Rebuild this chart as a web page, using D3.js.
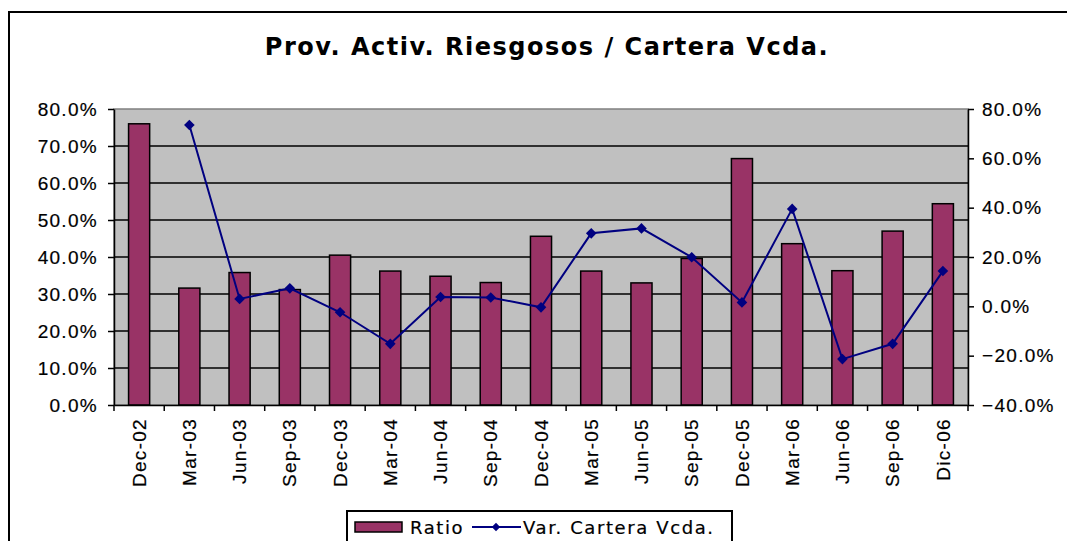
<!DOCTYPE html>
<html>
<head>
<meta charset='utf-8'>
<script src='https://d3js.org/d3.v7.min.js'></script>
<style>
    body { margin: 0; background: #fff; }
    svg { display: block; font-family: "DejaVu Sans", Verdana, sans-serif; }
    .axis text { font-size: 19px; fill: #000; letter-spacing: 1.3px; stroke: #000; stroke-width: 0.2px; }
    .axis path, .axis line { stroke: #000; stroke-width: 1.5; }
    .legend text { font-size: 18px; letter-spacing: 1.6px; stroke: #000; stroke-width: 0.2px; }
</style>
</head>
<body>
<div id='chart'></div>
<script>
    // quarters
    var categories = ['Dec-02', 'Mar-03', 'Jun-03', 'Sep-03', 'Dec-03', 'Mar-04', 'Jun-04', 'Sep-04',
        'Dec-04', 'Mar-05', 'Jun-05', 'Sep-05', 'Dec-05', 'Mar-06', 'Jun-06', 'Sep-06', 'Dic-06'];
    // Ratio (%), left axis
    var ratio = [76.0, 31.6, 35.8, 31.2, 40.5, 36.2, 34.8, 33.1, 45.6, 36.2, 33.0, 39.6, 66.6, 43.6, 36.3, 47.0, 54.4];
    // Var. Cartera Vcda. (%), right axis
    var variation = [null, 73.5, 3.0, 7.3, -2.4, -15.2, 3.8, 3.6, -0.4, 29.6, 31.6, 19.9, 1.6, 39.5, -21.4, -15.2, 14.3];
    var leftTicks = [0, 10, 20, 30, 40, 50, 60, 70, 80];
    var rightTicks = [-40, -20, 0, 20, 40, 60, 80];

    const W = 1067, H = 541;
    const plot = { left: 114, right: 968, top: 109, bottom: 405 };

    var svg = d3.select('#chart').append('svg')
        .attr('width', W)
        .attr('height', H);

    // chart border (runs off the bottom/right of the picture)
    svg.append('rect')
        .attr('x', 9).attr('y', 12)
        .attr('width', W + 20).attr('height', H + 20)
        .attr('fill', '#fff').attr('stroke', '#000').attr('stroke-width', 2);

    svg.append('text')
        .attr('x', 547).attr('y', 55)
        .attr('text-anchor', 'middle')
        .attr('font-size', 24).attr('font-weight', 'bold')
        .attr('letter-spacing', 1.5)
        .text('Prov. Activ. Riesgosos / Cartera Vcda.');

    var x = d3.scaleBand().domain(categories).range([plot.left, plot.right]).padding(0);
    var yL = d3.scaleLinear().domain([0, 80]).range([plot.bottom, plot.top]);
    var yR = d3.scaleLinear().domain([-40, 80]).range([plot.bottom, plot.top]);
    var pct = function(d) { return d3.format('.1f')(d) + '%'; };

    // plot area
    svg.append('rect')
        .attr('x', plot.left).attr('y', plot.top)
        .attr('width', plot.right - plot.left).attr('height', plot.bottom - plot.top)
        .attr('fill', '#c0c0c0').attr('stroke', '#808080').attr('stroke-width', 1.5);

    // gridlines
    svg.append('g').selectAll('line')
        .data(leftTicks.filter(function(d) { return d > 0 && d < 80; }))
        .enter().append('line')
        .attr('x1', plot.left).attr('x2', plot.right)
        .attr('y1', function(d) { return yL(d); }).attr('y2', function(d) { return yL(d); })
        .attr('stroke', '#000').attr('stroke-width', 1.5);

    // bars
    var bw = x.bandwidth() * 0.42;
    svg.append('g').selectAll('rect')
        .data(ratio)
        .enter().append('rect')
        .attr('x', function(d, i) { return x(categories[i]) + (x.bandwidth() - bw) / 2; })
        .attr('y', function(d) { return yL(d); })
        .attr('width', bw)
        .attr('height', function(d) { return yL(0) - yL(d); })
        .attr('fill', '#993366').attr('stroke', '#000').attr('stroke-width', 1.5);

    // axes
    svg.append('g').attr('class', 'axis')
        .attr('transform', 'translate(' + plot.left + ',0)')
        .call(d3.axisLeft(yL).tickValues(leftTicks).tickFormat(pct).tickSize(6).tickSizeOuter(0).tickPadding(10));

    svg.append('g').attr('class', 'axis')
        .attr('transform', 'translate(' + plot.right + ',0)')
        .call(d3.axisRight(yR).tickValues(rightTicks).tickFormat(pct).tickSize(6).tickSizeOuter(0).tickPadding(8));

    var xAxis = svg.append('g').attr('class', 'axis')
        .attr('transform', 'translate(0,' + plot.bottom + ')')
        .call(d3.axisBottom(x).tickSize(0).tickSizeOuter(0).tickPadding(0));
    xAxis.selectAll('.tick text')
        .attr('transform', 'rotate(-90)')
        .attr('text-anchor', 'end')
        .attr('x', -13).attr('y', 0).attr('dy', '0.35em');

    // boundary ticks on x axis
    var bounds = categories.map(function(c) { return x(c); }).concat([x.range()[1]]);
    xAxis.selectAll('.bound')
        .data(bounds)
        .enter().append('line')
        .attr('class', 'bound')
        .attr('x1', function(d) { return d; }).attr('x2', function(d) { return d; })
        .attr('y1', 0).attr('y2', 6);

    // line series
    var line = d3.line()
        .defined(function(d) { return d !== null; })
        .x(function(d, i) { return x(categories[i]) + x.bandwidth() / 2; })
        .y(function(d) { return yR(d); });

    svg.append('path')
        .datum(variation)
        .attr('d', line)
        .attr('fill', 'none').attr('stroke', '#000080').attr('stroke-width', 2);

    var diamond = d3.symbol().type(d3.symbolDiamond2).size(72);
    svg.append('g').selectAll('path')
        .data(variation.map(function(v, i) { return { v: v, c: categories[i] }; })
            .filter(function(d) { return d.v !== null; }))
        .enter().append('path')
        .attr('d', diamond)
        .attr('transform', function(d) {
            return 'translate(' + (x(d.c) + x.bandwidth() / 2) + ',' + yR(d.v) + ')';
        })
        .attr('fill', '#000080');

    // legend
    var lg = svg.append('g').attr('class', 'legend').attr('transform', 'translate(347,511)');
    lg.append('rect')
        .attr('x', 0).attr('y', 0).attr('width', 385).attr('height', 50)
        .attr('fill', '#fff').attr('stroke', '#000').attr('stroke-width', 2);
    lg.append('rect')
        .attr('x', 8).attr('y', 11).attr('width', 47).attr('height', 10)
        .attr('fill', '#993366').attr('stroke', '#000').attr('stroke-width', 1.5);
    lg.append('text').attr('x', 63).attr('y', 23).text('Ratio');
    lg.append('line')
        .attr('x1', 125).attr('x2', 174).attr('y1', 16).attr('y2', 16)
        .attr('stroke', '#000080').attr('stroke-width', 2);
    lg.append('path')
        .attr('d', d3.symbol().type(d3.symbolDiamond2).size(45))
        .attr('transform', 'translate(149,16)')
        .attr('fill', '#000080');
    lg.append('text').attr('x', 176).attr('y', 23).text('Var. Cartera Vcda.');
</script>
</body>
</html>
